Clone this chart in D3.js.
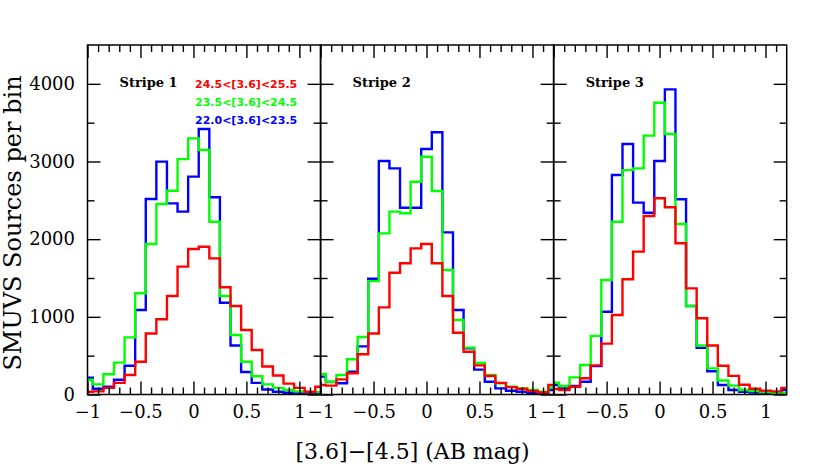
<!DOCTYPE html>
<html>
<head>
<meta charset="utf-8">
<script src="https://cdn.jsdelivr.net/npm/d3@7"></script>
<style>
body { margin: 0; background: #fff; }
svg { display: block; }
</style>
</head>
<body>
<div id="chart"></div>
<script>
// bin centres in [3.6]-[4.5], width 0.1
const binCenters = [-1.0, -0.9, -0.8, -0.7, -0.6, -0.5, -0.4, -0.3, -0.2, -0.1, 0.0,
    0.1, 0.2, 0.3, 0.4, 0.5, 0.6, 0.7, 0.8, 0.9, 1.0, 1.1, 1.2];

// counts per bin
const stripe1Red   = [36, 40, 85, 150, 251, 422, 785, 968, 1268, 1646, 1873, 1903, 1753, 1380, 1139, 830, 573, 360, 245, 140, 85, 36, 100];
const stripe1Green = [190, 130, 260, 410, 736, 1303, 1938, 2453, 2624, 3030, 3298, 3148, 2225, 1268, 766, 422, 235, 130, 85, 60, 40, 30, 30];
const stripe1Blue  = [215, 75, 100, 190, 371, 1088, 2517, 2998, 2461, 2354, 2805, 3418, 2539, 1182, 630, 290, 150, 65, 35, 22, 15, 12, 12];

const stripe2Red   = [122, 114, 195, 273, 518, 785, 1122, 1568, 1689, 1882, 1938, 1689, 1268, 796, 551, 375, 238, 150, 95, 75, 45, 25, 122];
const stripe2Green = [264, 165, 251, 453, 740, 1460, 2075, 2354, 2333, 2740, 3062, 2620, 1603, 959, 603, 405, 251, 144, 100, 79, 58, 36, 87];
const stripe2Blue  = [230, 160, 144, 294, 620, 1490, 3006, 2912, 2405, 2405, 3161, 3376, 2088, 1088, 594, 320, 165, 79, 49, 36, 20, 18, 58];

const stripe3Red   = [71, 58, 100, 209, 375, 655, 1024, 1483, 1839, 2298, 2526, 2410, 1947, 1367, 981, 630, 370, 240, 125, 75, 50, 40, 85];
const stripe3Green = [152, 109, 221, 380, 755, 1474, 2225, 2889, 2912, 3333, 3757, 3354, 2195, 1139, 630, 337, 180, 114, 58, 45, 30, 20, 20];
const stripe3Blue  = [122, 79, 109, 165, 365, 1066, 2826, 3225, 2470, 2341, 3006, 3929, 2513, 1139, 600, 300, 122, 58, 36, 25, 20, 20, 58];

const stripeNames = ["Stripe 1", "Stripe 2", "Stripe 3"];
const rangeLabels = ["24.5<[3.6]<25.5", "23.5<[3.6]<24.5", "22.0<[3.6]<23.5"];
const rangeColors = ["#ff0000", "#00ff00", "#0000ff"];

const xMajorTicks = [-1, -0.5, 0, 0.5, 1];
const xMinorTicks = [-0.9, -0.8, -0.7, -0.6, -0.4, -0.3, -0.2, -0.1, 0.1, 0.2, 0.3, 0.4, 0.6, 0.7, 0.8, 0.9, 1.1];
const yMajorTicks = [0, 1000, 2000, 3000, 4000];
const yMinorTicks = [500, 1500, 2500, 3500];

const width = 830,
    height = 476;
const margin = { top: 45, right: 43.3, bottom: 81.5, left: 87.5 };
const panelW = (width - margin.left - margin.right) / 3;
const binHalf = 0.05;

const stripes = [
    { name: stripeNames[0], series: [stripe1Red, stripe1Green, stripe1Blue] },
    { name: stripeNames[1], series: [stripe2Red, stripe2Green, stripe2Blue] },
    { name: stripeNames[2], series: [stripe3Red, stripe3Green, stripe3Blue] }
];

const svg = d3.select("#chart").append("svg")
    .attr("width", width)
    .attr("height", height);

const y = d3.scaleLinear()
    .domain([0, 4500])
    .range([height - margin.bottom, margin.top]);

const serif = "'DejaVu Serif', serif";

stripes.forEach((stripe, p) => {
    const x0 = margin.left + p * panelW;
    const x = d3.scaleLinear()
        .domain([-1, 1.2])
        .range([x0, x0 + panelW]);

    const g = svg.append("g");

    g.append("clipPath")
        .attr("id", "clip" + p)
        .append("rect")
        .attr("x", x0)
        .attr("y", margin.top)
        .attr("width", panelW)
        .attr("height", y(0) - margin.top);

    // histograms: blue first, red on top
    const line = d3.line().x(d => x(d[0])).y(d => y(d[1]));
    [2, 1, 0].forEach(k => {
        const vals = stripe.series[k];
        const pts = [[binCenters[0] - binHalf, 0]];
        binCenters.forEach((c, i) => {
            pts.push([c - binHalf, vals[i]]);
            pts.push([c + binHalf, vals[i]]);
        });
        pts.push([binCenters[binCenters.length - 1] + binHalf, 0]);
        g.append("path")
            .attr("clip-path", `url(#clip${p})`)
            .attr("d", line(pts))
            .attr("fill", "none")
            .attr("stroke", rangeColors[k])
            .attr("stroke-width", 2.4)
            .attr("stroke-linejoin", "miter");
    });

    // ticks, all pointing inward
    const tickStyle = sel => {
        sel.select(".domain").remove();
        sel.selectAll("line").attr("stroke", "#000").attr("stroke-width", 1.4);
    };
    const bottomY = y(0);

    g.append("g")
        .attr("transform", `translate(0,${bottomY})`)
        .call(d3.axisBottom(x).tickValues(xMinorTicks).tickSize(-7).tickFormat(""))
        .call(tickStyle);
    g.append("g")
        .attr("transform", `translate(0,${bottomY})`)
        .call(d3.axisBottom(x).tickValues(xMajorTicks).tickSize(-13).tickPadding(10.5)
            .tickFormat(d3.format("")))
        .call(tickStyle)
        .call(a => a.selectAll("text")
            .attr("fill", "#000")
            .style("font-family", serif)
            .style("font-size", "18px"));
    g.append("g")
        .attr("transform", `translate(0,${margin.top})`)
        .call(d3.axisTop(x).tickValues(xMinorTicks).tickSize(-7).tickFormat(""))
        .call(tickStyle);
    g.append("g")
        .attr("transform", `translate(0,${margin.top})`)
        .call(d3.axisTop(x).tickValues(xMajorTicks).tickSize(-13).tickFormat(""))
        .call(tickStyle);

    g.append("g")
        .attr("transform", `translate(${x0},0)`)
        .call(d3.axisLeft(y).tickValues(yMinorTicks).tickSize(-7).tickFormat(""))
        .call(tickStyle);
    const leftMajor = g.append("g")
        .attr("transform", `translate(${x0},0)`)
        .call(d3.axisLeft(y).tickValues(yMajorTicks).tickSize(-13).tickPadding(12.5)
            .tickFormat(p === 0 ? d3.format("d") : ""))
        .call(tickStyle);
    leftMajor.selectAll("text")
        .attr("fill", "#000")
        .style("font-family", serif)
        .style("font-size", "18px");

    g.append("g")
        .attr("transform", `translate(${x0 + panelW},0)`)
        .call(d3.axisRight(y).tickValues(yMinorTicks).tickSize(-7).tickFormat(""))
        .call(tickStyle);
    g.append("g")
        .attr("transform", `translate(${x0 + panelW},0)`)
        .call(d3.axisRight(y).tickValues(yMajorTicks).tickSize(-13).tickFormat(""))
        .call(tickStyle);

    // frame
    g.append("rect")
        .attr("x", x0)
        .attr("y", margin.top)
        .attr("width", panelW)
        .attr("height", bottomY - margin.top)
        .attr("fill", "none")
        .attr("stroke", "#000")
        .attr("stroke-width", 1.5);

    g.append("text")
        .attr("x", x0 + 32)
        .attr("y", 87)
        .text(stripe.name)
        .style("font-family", serif)
        .style("font-weight", "bold")
        .style("font-size", "13px");
});

// magnitude range legend in the first panel
rangeLabels.forEach((label, i) => {
    svg.append("text")
        .attr("x", margin.left + 107.5)
        .attr("y", 87.5 + i * 18)
        .text(label)
        .attr("fill", rangeColors[i])
        .style("font-family", "'DejaVu Sans', sans-serif")
        .style("font-weight", "bold")
        .style("font-size", "11px");
});

// axis titles
svg.append("text")
    .attr("x", 412.5)
    .attr("y", 459)
    .attr("text-anchor", "middle")
    .text("[3.6]\u2212[4.5] (AB mag)")
    .style("font-family", serif)
    .style("font-size", "22px");

svg.append("text")
    .attr("transform", "rotate(-90)")
    .attr("x", -223)
    .attr("y", 21)
    .attr("text-anchor", "middle")
    .text("SMUVS Sources per bin")
    .style("font-family", serif)
    .style("font-size", "24px");
</script>
</body>
</html>
